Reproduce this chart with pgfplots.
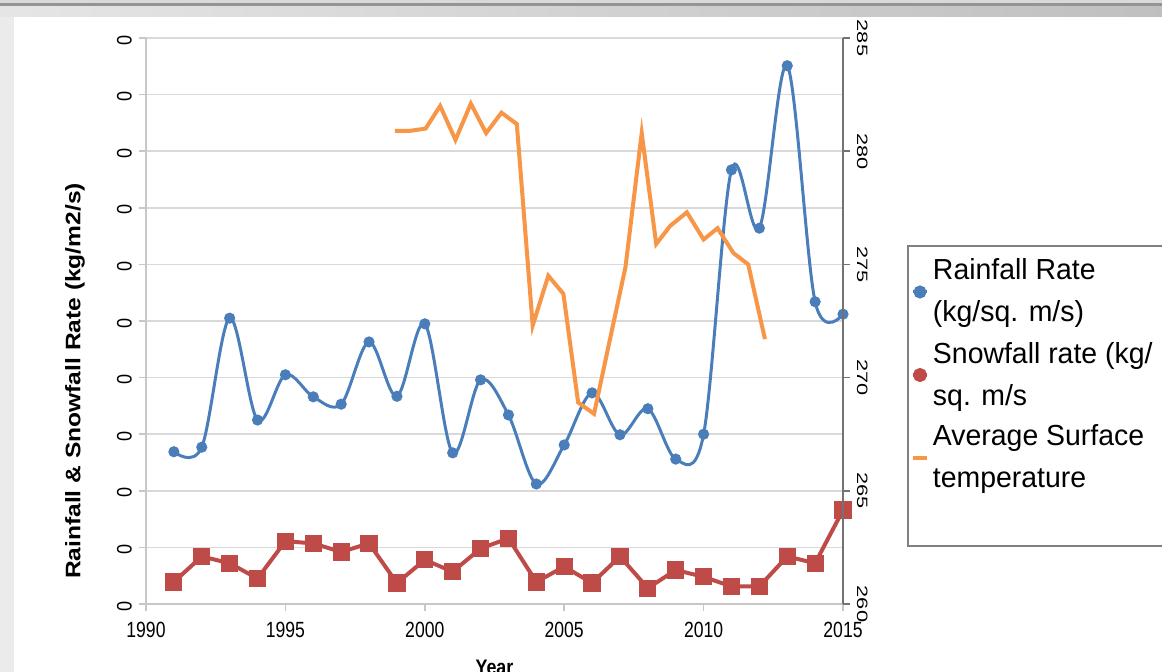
\documentclass[border=0pt]{standalone}
\usepackage{fontspec}
\setmainfont{Liberation Sans}
\newfontfamily\hfont[FakeStretch=0.8]{Liberation Sans}
\newfontfamily\vfont[FakeStretch=1.45]{Liberation Sans}
\newfontfamily\ylfont[FakeStretch=1.17]{Liberation Sans}
\newfontfamily\legfont[FakeStretch=0.98]{Liberation Sans}
\newfontfamily\zfont[FakeStretch=0.86]{Liberation Sans}
\newfontfamily\yrfont[FakeStretch=0.85]{Liberation Sans}
\usepackage{pgfplots}
\pgfplotsset{compat=1.18}
\definecolor{rainblue}{HTML}{4A7EBB}
\definecolor{snowred}{HTML}{BE4B48}
\definecolor{temporange}{HTML}{F79646}
\newcommand\legtwo[2]{\vbox{\hbox to 125pt{#1\hfil}\hbox to 125pt{#2\hfil}}}
\begin{document}
\begin{tikzpicture}
\path[use as bounding box] (0,0) rectangle (581pt,336pt);
\clip (0,0) rectangle (581pt,336pt);
% screenshot frame
\fill[black!8] (0,0) rectangle (581pt,336pt);
\fill[white] (7pt,0) rectangle (581pt,327.5pt);
\shade[left color=black!10, right color=black!25] (0,327.5pt) rectangle (581pt,333pt);
\fill[black!42] (0,333pt) rectangle (581pt,334.6pt);
\fill[black!15] (0,334.6pt) rectangle (581pt,336pt);
\begin{axis}[
  scale only axis, width=348.5pt, height=283pt,
  at={(73pt,34pt)}, anchor=south west,
  xmin=1990, xmax=2015, ymin=0, ymax=10,
  axis x line*=bottom, axis y line*=left,
  axis line style={draw=black!22, line width=0.8pt},
  tick style={draw=black!22, line width=0.8pt},
  tick align=outside, major tick length=3.5pt,
  xtick={1990,1995,2000,2005,2010,2015},
  ytick={0,1,...,10},
  yticklabels={0,0,0,0,0,0,0,0,0,0,0},
  /pgf/number format/assume math mode=true,
  /pgf/number format/1000 sep={},
  x tick label style={font=\hfont\fontsize{11}{13}\selectfont, yshift=-2pt},
  y tick label style={font=\zfont\fontsize{10.5}{12}\selectfont, rotate=90, anchor=south, xshift=-1pt},
  ymajorgrids, grid style={black!15, line width=0.8pt},
  xlabel={Year},
  xlabel style={font=\yrfont\bfseries\fontsize{10.5}{12}\selectfont, at={(axis description cs:0.5,0)}, anchor=north, yshift=-24.5pt},
  ylabel={Rainfall \& Snowfall Rate (kg/m2/s)},
  ylabel style={font=\ylfont\bfseries\fontsize{10.5}{12}\selectfont, at={(axis description cs:-0.1019,0.394)}, anchor=center},
  clip=false,
]
\addplot[rainblue, line width=1.5pt, smooth, tension=0.55, mark=*, mark size=2pt, mark options={solid}] coordinates {
(1991,2.69) (1992,2.77) (1993,5.05) (1994,3.25) (1995,4.05) (1996,3.66) (1997,3.53) (1998,4.63) (1999,3.67) (2000,4.95)
(2001,2.67) (2002,3.96) (2003,3.34) (2004,2.12) (2005,2.81) (2006,3.73) (2007,2.99) (2008,3.45) (2009,2.56) (2010,3.00)
(2011,7.67) (2012,6.64) (2013,9.51) (2014,5.34) (2015,5.12)};
\addplot[snowred, line width=2pt, mark=square*, mark size=3.3pt, mark options={solid}] coordinates {
(1991,0.39) (1992,0.84) (1993,0.72) (1994,0.45) (1995,1.11) (1996,1.07) (1997,0.92) (1998,1.07) (1999,0.37) (2000,0.78)
(2001,0.57) (2002,0.98) (2003,1.16) (2004,0.39) (2005,0.66) (2006,0.37) (2007,0.84) (2008,0.28) (2009,0.60) (2010,0.48)
(2011,0.31) (2012,0.31) (2013,0.84) (2014,0.72) (2015,1.66)};
\end{axis}
\begin{axis}[
  scale only axis, width=348.5pt, height=283pt,
  at={(73pt,34pt)}, anchor=south west,
  xmin=1990, xmax=2015, ymin=260, ymax=285,
  axis x line=none, axis y line*=right,
  axis line style={draw=black!55, line width=1pt},
  tick style={draw=black!55, line width=0.8pt},
  tick align=outside, major tick length=3.5pt,
  ytick={260,265,...,285},
  /pgf/number format/assume math mode=true,
  y tick label style={font=\vfont\fontsize{7.5}{9}\selectfont, rotate=-90, anchor=south},
  legend style={
    at={(axis description cs:1.0918,0.6343)}, anchor=north west,
    draw=black!50, line width=1pt,
    font=\legfont\fontsize{14.5}{21}\selectfont,
    inner xsep=1.5pt, inner ysep=6.5pt,
    row sep=8.5pt, column sep=2pt,
    cells={anchor=west},
    nodes={inner sep=0pt},
  },
  legend image code/.code={\draw[mark repeat=2,mark phase=2,#1] plot coordinates {(0pt,0pt) (3.5pt,0pt) (7pt,0pt)};},
]
\addlegendimage{rainblue, line width=1.5pt, mark=*, mark size=2.5pt}
\addlegendentry{\legtwo{Rainfall Rate}{(kg/sq. m/s)}}
\addlegendimage{snowred, line width=2pt, mark=*, mark size=2.5pt}
\addlegendentry{\legtwo{Snowfall rate (kg/}{sq. m/s}}
\addplot[temporange, line width=2pt] coordinates {
(1998.93,280.9) (1999.48,280.9) (2000.03,281.0) (2000.55,282.0) (2001.1,280.5) (2001.65,282.1) (2002.2,280.8) (2002.75,281.7)
(2003.3,281.2) (2003.87,272.3) (2004.43,274.5) (2004.97,273.7) (2005.5,268.9) (2006.07,268.4) (2007.2,274.9) (2007.78,280.8)
(2008.3,275.9) (2008.8,276.7) (2009.4,277.3) (2010.0,276.1) (2010.5,276.6) (2011.07,275.5) (2011.6,275.0) (2012.2,271.7)};
\addlegendentry{\legtwo{Average Surface}{temperature}}
\addlegendimage{empty legend}
\addlegendentry{\rule{0pt}{11pt}}
\end{axis}
\end{tikzpicture}
\end{document}
